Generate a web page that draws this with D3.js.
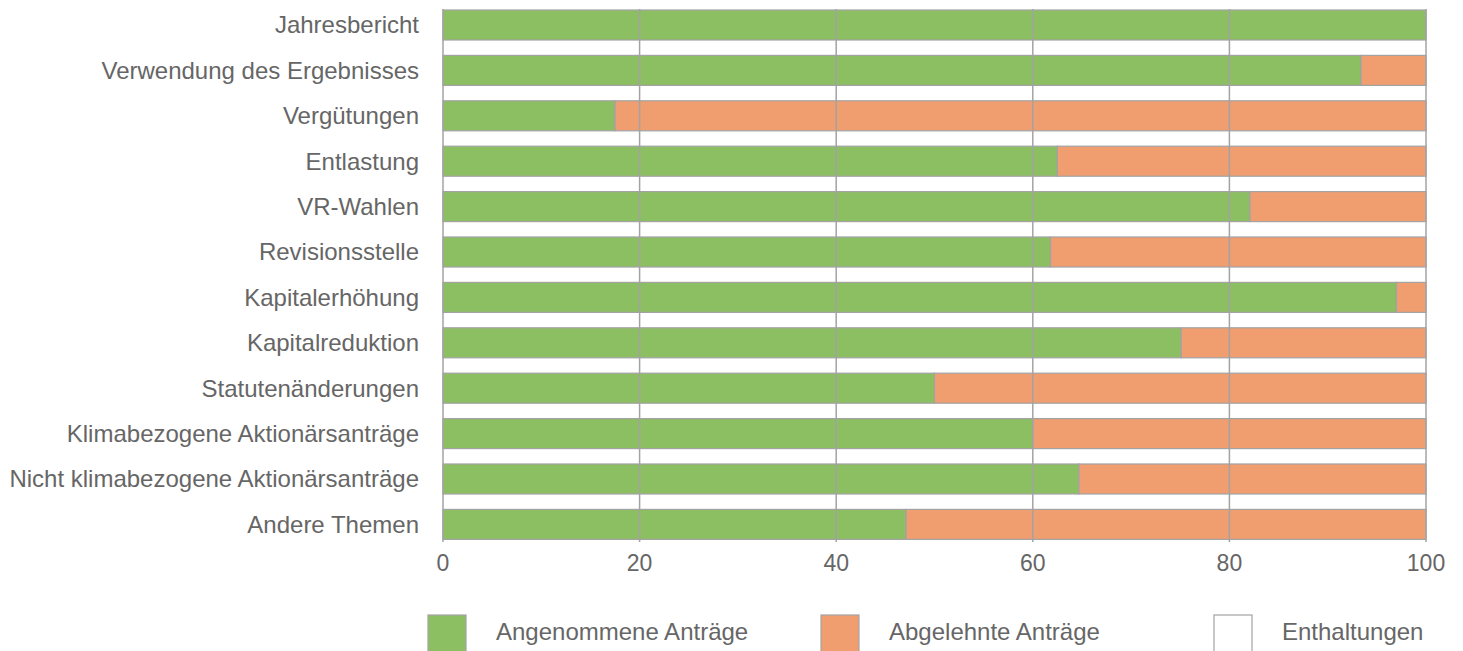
<!DOCTYPE html>
<html>
<head>
<meta charset="utf-8">
<script src="https://cdn.jsdelivr.net/npm/d3@7"></script>
<style>
  html, body { margin: 0; padding: 0; background: #fff; }
  svg { display: block; }
  text { font-family: "Liberation Sans", Arial, sans-serif; fill: #666; }
</style>
</head>
<body>
<svg id="chart" width="1463" height="651"></svg>
<script>
const categories = [
  "Jahresbericht",
  "Verwendung des Ergebnisses",
  "Vergütungen",
  "Entlastung",
  "VR-Wahlen",
  "Revisionsstelle",
  "Kapitalerhöhung",
  "Kapitalreduktion",
  "Statutenänderungen",
  "Klimabezogene Aktionärsanträge",
  "Nicht klimabezogene Aktionärsanträge",
  "Andere Themen"
];
const angenommen = [100, 93.4, 17.5, 62.5, 82.1, 61.8, 97.0, 75.1, 50.0, 60.0, 64.7, 47.1];
const abgelehnt  = [0, 6.6, 82.5, 37.5, 17.9, 38.2, 3.0, 24.9, 50.0, 40.0, 35.3, 52.9];
const enthaltungen = [0, 0, 0, 0, 0, 0, 0, 0, 0, 0, 0, 0];
const seriesNames = ["Angenommene Anträge", "Abgelehnte Anträge", "Enthaltungen"];
const seriesColors = ["#8cbe62", "#f09d70", "#ffffff"];
const xTicks = [0, 20, 40, 60, 80, 100];

const svg = d3.select("#chart");
const x = d3.scaleLinear().domain([0, 100]).range([443, 1426]);
const y = d3.scaleBand().domain(categories).range([10, 539.4]).paddingInner(0.339).paddingOuter(0);

const rows = categories.map((c, i) => ({cat: c, a: angenommen[i], b: abgelehnt[i], e: enthaltungen[i]}));
const stack = d3.stack().keys(["a", "b", "e"]);
const stacked = stack(rows);

const gBars = svg.append("g");
stacked.forEach((s, si) => {
  gBars.selectAll(null).data(s).enter().append("rect")
    .attr("x", d => x(d[0]))
    .attr("y", d => y(d.data.cat))
    .attr("width", d => Math.max(0, x(d[1]) - x(d[0])))
    .attr("height", y.bandwidth())
    .attr("fill", seriesColors[si])
    .attr("stroke", "#a3a3a3")
    .attr("stroke-width", 1.2)
    .style("display", d => (d[1] - d[0]) > 0 ? null : "none");
});

// gridlines on top
const gGrid = svg.append("g");
gGrid.selectAll("line").data(xTicks).enter().append("line")
  .attr("x1", d => x(d)).attr("x2", d => x(d))
  .attr("y1", 9).attr("y2", 542)
  .attr("stroke", "#a3a3a3").attr("stroke-width", 1.5);

// x-axis tick labels
svg.append("g").selectAll("text").data(xTicks).enter().append("text")
  .attr("x", d => x(d)).attr("y", 571)
  .attr("text-anchor", "middle")
  .style("font-size", "23px")
  .text(d => d);

// category labels
svg.append("g").selectAll("text").data(categories).enter().append("text")
  .attr("x", 419)
  .attr("y", d => y(d) + y.bandwidth() / 2)
  .attr("dy", "0.35em")
  .attr("text-anchor", "end")
  .style("font-size", "24px")
  .text(d => d);

// legend
const legendX = [428, 821, 1214];
const lg = svg.append("g");
seriesNames.forEach((n, i) => {
  lg.append("rect")
    .attr("x", legendX[i]).attr("y", 615)
    .attr("width", 38).attr("height", 40)
    .attr("fill", seriesColors[i])
    .attr("stroke", "#a3a3a3").attr("stroke-width", 1.2);
  lg.append("text")
    .attr("x", legendX[i] + 68).attr("y", 640)
    .style("font-size", "24px")
    .text(n);
});
</script>
</body>
</html>
